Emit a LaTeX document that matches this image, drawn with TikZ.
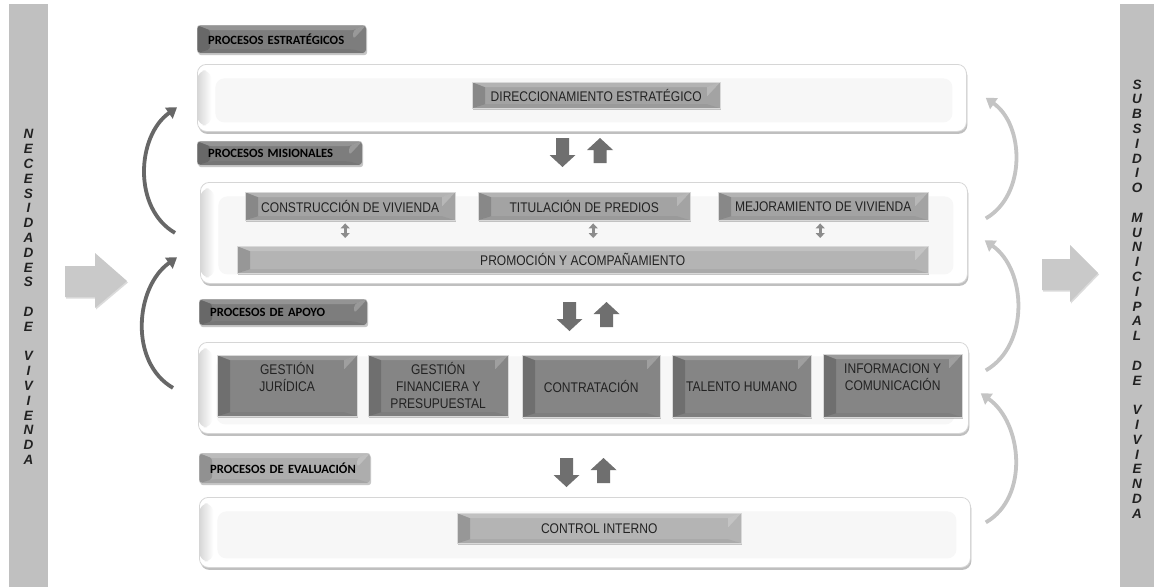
\documentclass[tikz,border=0pt]{standalone}
\usepackage{fontspec}
\setmainfont{Liberation Sans}
\newfontfamily\boxfont{Liberation Sans}[FakeStretch=0.86]
\newfontfamily\tabfont{Carlito}
\usetikzlibrary{arrows.meta,shadows,calc}
\definecolor{barG}{HTML}{C0C0C0}
\definecolor{bigArr}{HTML}{C9C9C9}
\definecolor{tabDark}{HTML}{7D7D7D}
\definecolor{tabLight}{HTML}{ADADAD}
\definecolor{boxMid}{HTML}{A3A3A3}
\definecolor{boxLight}{HTML}{B4B4B4}
\definecolor{boxDark}{HTML}{858585}
\definecolor{frameLine}{HTML}{D6D6D6}
\definecolor{txtDark}{HTML}{222222}
\definecolor{arrDark}{HTML}{6F6F6F}
\definecolor{curvDark}{HTML}{676767}
\definecolor{curvLight}{HTML}{C4C4C4}
\definecolor{dblArr}{HTML}{8C8C8C}
\tikzset{
  bevel/.style={path picture={
    \path (path picture bounding box.north west) coordinate (qa)
          (path picture bounding box.north east) coordinate (qb)
          (path picture bounding box.south east) coordinate (qc)
          (path picture bounding box.south west) coordinate (qd);
    \fill[black,opacity=.16] (qa) -- ([shift={(13pt,-5pt)}]qa) -- ([shift={(13pt,4pt)}]qd) -- (qd) -- cycle;
    \fill[white,opacity=.18] (qa) -- (qb) -- ([shift={(-13pt,-5pt)}]qb) -- ([shift={(13pt,-5pt)}]qa) -- cycle;
    \fill[white,opacity=.22] (qb) -- ([shift={(-13pt,-5pt)}]qb) -- ([shift={(-13pt,-14pt)}]qb) -- cycle;
    \fill[black,opacity=.05] (qd) -- (qc) -- ([shift={(-13pt,4pt)}]qc) -- ([shift={(13pt,4pt)}]qd) -- cycle;
  }},
  frame/.style={anchor=north west, inner sep=0pt, rounded corners=9pt, fill=white, draw=frameLine, line width=0.8pt,
    drop shadow={shadow xshift=1pt, shadow yshift=-2.5pt, fill=black!50, opacity=.5},
    path picture={
      \fill[black!3] ([shift={(18pt,-14pt)}]path picture bounding box.north west) rectangle ([shift={(-14pt,9pt)}]path picture bounding box.south east);
      \shade[left color=black!16, right color=white] ([shift={(0pt,-6pt)}]path picture bounding box.north west) rectangle ([shift={(14pt,6pt)}]path picture bounding box.south west);
    }},
  bevbox/.style={anchor=north west, inner sep=0pt, draw=white!85!black, line width=0.4pt, text=txtDark, align=center,
    font=\boxfont\fontsize{14}{17}\selectfont, bevel,
    drop shadow={shadow xshift=1pt, shadow yshift=-2pt, fill=black!55, opacity=.4}},
  tabbox/.style={anchor=north west, inner xsep=11pt, inner ysep=0pt, rounded corners=3pt, text=black, align=left,
    font=\tabfont\bfseries\fontsize{12.6}{14}\selectfont, bevel, draw=white!80!black, line width=0.4pt,
    drop shadow={shadow xshift=1pt, shadow yshift=-2pt, fill=black!55, opacity=.4}},
  bartext/.style={align=center, text=txtDark, font=\bfseries\itshape\fontsize{13.5}{14.8}\selectfont, inner sep=0pt},
  curv/.style={line width=3.8pt, -{Triangle[width=13pt,length=10pt]}},
  dbl/.style={draw=dblArr, line width=2.8pt, {Triangle[width=9pt,length=5pt]}-{Triangle[width=9pt,length=5pt]}},
  darrow/.pic={\fill[arrDark] (-6.5,0) -- (6.5,0) -- (6.5,-17) -- (13,-17) -- (0,-29) -- (-13,-17) -- (-6.5,-17) -- cycle;},
  uarrow/.pic={\fill[arrDark] (0,0) -- (13,-12) -- (6.5,-12) -- (6.5,-25) -- (-6.5,-25) -- (-6.5,-12) -- (-13,-12) -- cycle;}
}
\begin{document}
\begin{tikzpicture}[x=1pt,y=1pt]
\useasboundingbox (0,0) rectangle (1154,-587);
\fill[white] (0,0) rectangle (1154,-587);

% side bars
\fill[barG] (9,-4) rectangle (48,-587);
\fill[barG] (1120,-4) rectangle (1154,-587);
\node[bartext] (lt) at (28.5,-297) {N\\E\\C\\E\\S\\I\\D\\A\\D\\E\\S\\[14.8pt]D\\E\\[14.8pt]V\\I\\V\\I\\E\\N\\D\\A};
\node[bartext] (rt) at (1137,-299) {S\\U\\B\\S\\I\\D\\I\\O\\[14.8pt]M\\U\\N\\I\\C\\I\\P\\A\\L\\[14.8pt]D\\E\\[14.8pt]V\\I\\V\\I\\E\\N\\D\\A};

% big arrows
\fill[bigArr, drop shadow={shadow xshift=1pt, shadow yshift=-1.5pt, fill=black!40, opacity=.35}]
  (65,-266) -- (95,-266) -- (95,-253) -- (127,-281) -- (95,-308) -- (95,-297) -- (65,-297) -- cycle;
\fill[bigArr, drop shadow={shadow xshift=1pt, shadow yshift=-1.5pt, fill=black!40, opacity=.35}]
  (1042,-259) -- (1070,-259) -- (1070,-245) -- (1098,-273) -- (1070,-302) -- (1070,-290) -- (1042,-290) -- cycle;

% frames
\node[frame, minimum width=769pt, minimum height=67pt] (fEst) at (197,-64) {};
\node[frame, minimum width=767pt, minimum height=101pt] (fMis) at (200,-182) {};
\node[frame, minimum width=770pt, minimum height=91pt] (fApo) at (198,-342) {};
\node[frame, minimum width=771pt, minimum height=70pt] (fEva) at (199,-497) {};

% tabs
\node[tabbox, fill=tabDark, text width=147pt, minimum height=28pt] (tEst) at (197,-25) {PROCESOS ESTRATÉGICOS};
\node[tabbox, fill=tabDark, text width=143pt, minimum height=24pt] (tMis) at (197,-141) {PROCESOS MISIONALES};
\node[tabbox, fill=tabDark, text width=146pt, minimum height=26pt] (tApo) at (199,-299) {PROCESOS DE APOYO};
\node[tabbox, fill=tabLight, text width=149pt, minimum height=30pt] (tEva) at (199,-453) {PROCESOS DE EVALUACIÓN};

% strategic
\node[bevbox, fill=boxMid, minimum width=248pt, minimum height=26pt] (dir) at (472,-82) {DIRECCIONAMIENTO ESTRATÉGICO};

% misional
\node[bevbox, fill=boxMid, minimum width=210pt, minimum height=28pt] (cons) at (245,-192) {CONSTRUCCIÓN DE VIVIENDA};
\node[bevbox, fill=boxMid, minimum width=212pt, minimum height=28pt] (tit) at (478,-192) {TITULACIÓN DE PREDIOS};
\node[bevbox, fill=boxMid, minimum width=210pt, minimum height=28pt] (mej) at (718,-192) {MEJORAMIENTO DE VIVIENDA};
\node[bevbox, fill=boxLight, minimum width=691pt, minimum height=27pt] (prom) at (237,-246) {PROMOCIÓN Y ACOMPAÑAMIENTO};
\draw[dbl, shorten <=3pt, shorten >=8pt] ([xshift=-5pt]cons.south) -- ([xshift=-5pt]cons.south |- prom.north);
\draw[dbl, shorten <=3pt, shorten >=8pt] ([xshift=9pt]tit.south) -- ([xshift=9pt]tit.south |- prom.north);
\draw[dbl, shorten <=3pt, shorten >=8pt] ([xshift=-3pt]mej.south) -- ([xshift=-3pt]mej.south |- prom.north);

% apoyo
\node[bevbox, fill=boxDark, minimum width=140pt, minimum height=61pt] (gj) at (217,-355) {GESTIÓN\\JURÍDICA\\\mbox{}};
\node[bevbox, fill=boxDark, minimum width=140pt, minimum height=61pt] (gf) at (368,-355) {GESTIÓN\\FINANCIERA Y\\PRESUPUESTAL};
\node[bevbox, fill=boxDark, minimum width=138pt, minimum height=62pt] (con) at (522,-355) {CONTRATACIÓN};
\node[bevbox, fill=boxDark, minimum width=139pt, minimum height=62pt] (th) at (672,-355) {TALENTO HUMANO};
\node[bevbox, fill=boxDark, minimum width=139pt, minimum height=63pt] (ic) at (823,-354) {INFORMACION Y\\COMUNICACIÓN\\\mbox{}};

% evaluacion
\node[bevbox, fill=boxLight, minimum width=284pt, minimum height=30pt] (ci) at (457,-513) {CONTROL INTERNO};

% up/down arrows
\pic at (562.5,-138) {darrow};
\pic at (600,-138) {uarrow};
\pic at (569.5,-302) {darrow};
\pic at (606.5,-302) {uarrow};
\pic at (566.5,-458) {darrow};
\pic at (603.5,-458) {uarrow};

% curved arrows left
\draw[curv, curvDark] ([xshift=-25pt]fMis.west) to[out=150, in=215] ([shift={(-20pt,-9.5pt)}]fEst.west);
\draw[curv, curvDark] ([xshift=-25pt]fApo.west) to[out=150, in=215] ([shift={(-23pt,-24.5pt)}]fMis.west);
% curved arrows right
\draw[curv, curvLight] ([shift={(18pt,14.5pt)}]fMis.east) to[out=30, in=-35] ([shift={(19pt,0pt)}]fEst.east);
\draw[curv, curvLight] ([shift={(17pt,17.5pt)}]fApo.east) to[out=30, in=-35] ([shift={(17pt,-7.5pt)}]fMis.east);
\draw[curv, curvLight] ([shift={(15pt,10pt)}]fEva.east) to[out=30, in=-35] ([shift={(12pt,-5.5pt)}]fApo.east);
\end{tikzpicture}
\end{document}
